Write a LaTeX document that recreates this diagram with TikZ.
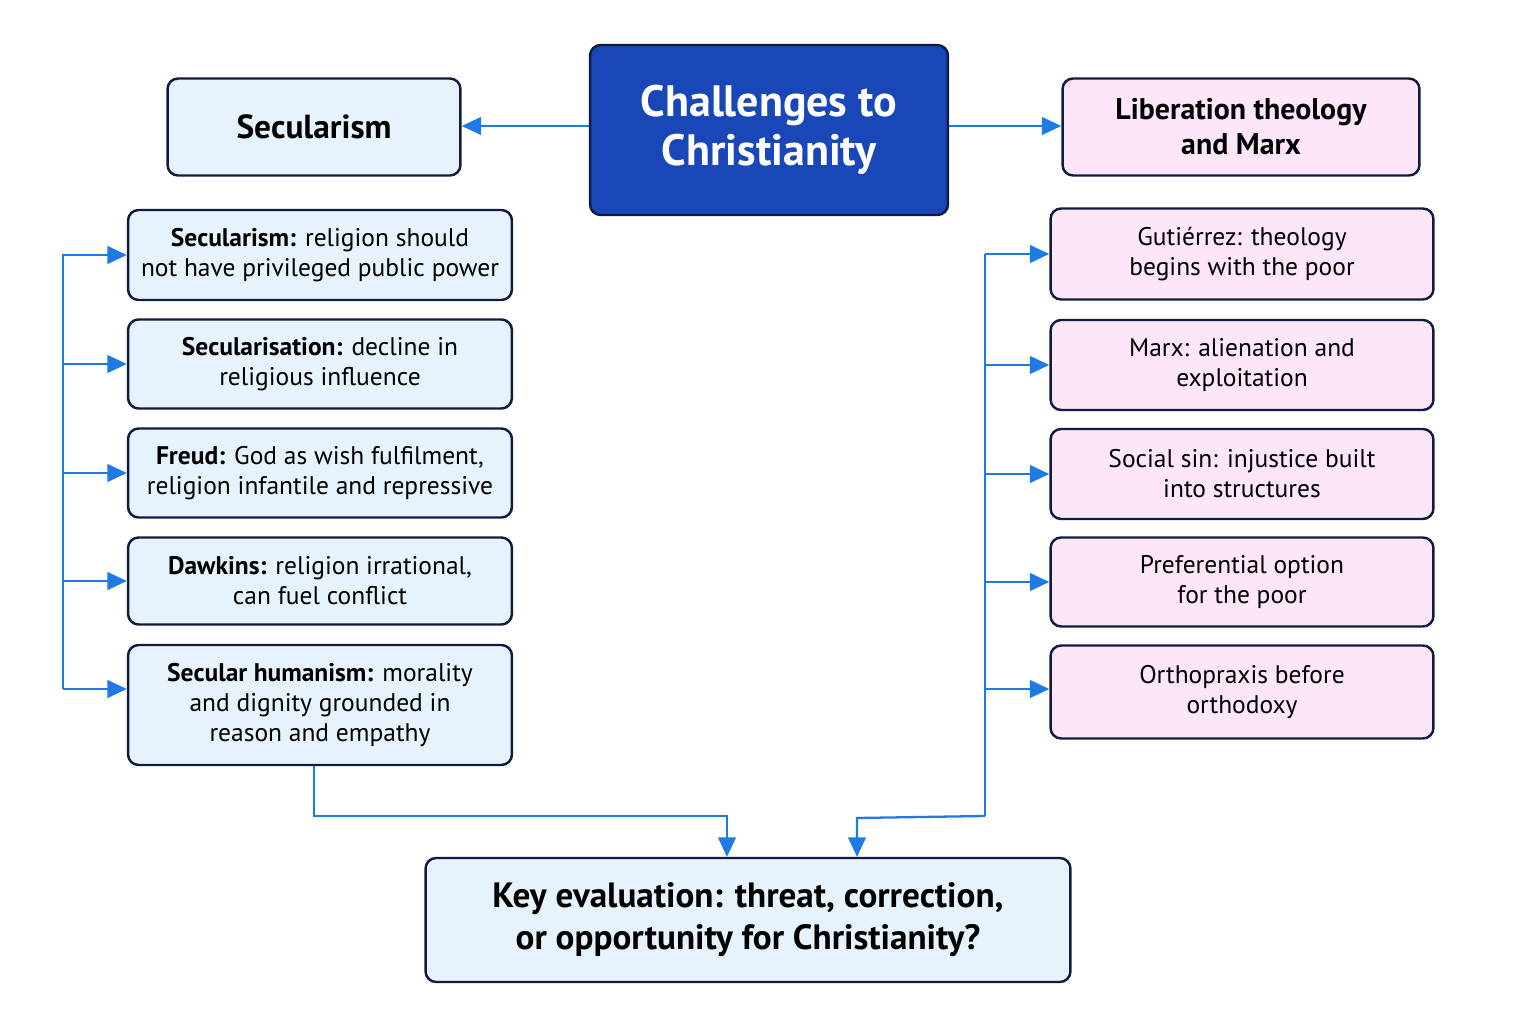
\documentclass[tikz,border=0pt]{standalone}
\usepackage{fontspec}
\setmainfont{PT Sans}
\usetikzlibrary{arrows.meta,positioning,calc}
\definecolor{navy}{HTML}{111B3F}
\definecolor{titleblue}{HTML}{1A47B8}
\definecolor{lightblue}{HTML}{E6F3FC}
\definecolor{lightpink}{HTML}{FCE6F8}
\definecolor{linkblue}{HTML}{1E7BE6}
\begin{document}
\begin{tikzpicture}[x=0.02cm, y=-0.02cm,
  box/.style={draw=navy, line width=1.4pt, rounded corners=6pt, align=center, inner sep=2pt},
  leftbox/.style={box, fill=lightblue, minimum width=7.68cm, font=\fontsize{14.5}{17}\selectfont},
  rightbox/.style={box, fill=lightpink, minimum width=7.66cm, font=\fontsize{14.5}{17}\selectfont},
  link/.style={draw=linkblue, line width=1.3pt, -{Triangle[length=11pt,width=10pt]}}]
  \useasboundingbox (0,0) rectangle (1536,1024);
  % top row
  \node[box, fill=titleblue, text=white, minimum width=7.16cm, minimum height=3.4cm,
        font=\bfseries\fontsize{25}{28}\selectfont] (title) at (769,130) {Challenges to\\Christianity};
  \node[box, fill=lightblue, minimum width=5.86cm, minimum height=1.94cm,
        font=\bfseries\fontsize{19}{22}\selectfont] (sec) at (314,127) {Secularism};
  \node[box, fill=lightpink, minimum width=7.14cm, minimum height=1.94cm,
        font=\bfseries\fontsize{17}{20}\selectfont] (lib) at (1241,127) {Liberation theology\\and Marx};
  % left column
  \node[leftbox, minimum height=1.8cm] (l1) at (320,255) {\textbf{Secularism:} religion should\\not have privileged public power};
  \node[leftbox, minimum height=1.78cm] (l2) at (320,364) {\textbf{Secularisation:} decline in\\religious influence};
  \node[leftbox, minimum height=1.78cm] (l3) at (320,473) {\textbf{Freud:} God as wish fulfilment,\\religion infantile and repressive};
  \node[leftbox, minimum height=1.74cm] (l4) at (320,581) {\textbf{Dawkins:} religion irrational,\\can fuel conflict};
  \node[leftbox, minimum height=2.4cm] (l5) at (320,705) {\textbf{Secular humanism:} morality\\and dignity grounded in\\reason and empathy};
  % right column
  \node[rightbox, minimum height=1.82cm] (r1) at (1242,254) {Gutiérrez: theology\\begins with the poor};
  \node[rightbox, minimum height=1.8cm] (r2) at (1242,365) {Marx: alienation and\\exploitation};
  \node[rightbox, minimum height=1.8cm] (r3) at (1242,474) {Social sin: injustice built\\into structures};
  \node[rightbox, minimum height=1.78cm] (r4) at (1242,582) {Preferential option\\for the poor};
  \node[rightbox, minimum height=1.86cm] (r5) at (1242,692) {Orthopraxis before\\orthodoxy};
  % bottom
  \node[box, fill=lightblue, minimum width=12.9cm, minimum height=2.48cm,
        font=\bfseries\fontsize{20}{24}\selectfont] (eval) at (748,920) {Key evaluation: threat, correction,\\or opportunity for Christianity?};
  % links
  \draw[link] (title.west |- 0,126) -- (sec.east |- 0,126);
  \draw[link] (title.east |- 0,126) -- (lib.west |- 0,126);
  \coordinate (lbus) at (63,254);
  \coordinate (rbus) at (985,254);
  \draw[draw=linkblue, line width=1.3pt] (63,254) -- (63,689);
  \foreach \n in {l1,l2,l3,l4}
    \draw[link] (lbus |- \n.west) -- (\n.west);
  \draw[link] (63,689) -- (l5.west |- 0,689);
  \draw[draw=linkblue, line width=1.3pt] (985,254) -- (985,816);
  \foreach \n in {r1,r2,r3,r4}
    \draw[link] (rbus |- \n.west) -- (\n.west);
  \draw[link] (985,689) -- (r5.west |- 0,689);
  \draw[link] (l5.south -| 314,0) -- (314,816) -- (727,816) -- (eval.north -| 727,0);
  \draw[link] (985,816) -- (857,818) -- (eval.north -| 857,0);
\end{tikzpicture}
\end{document}
